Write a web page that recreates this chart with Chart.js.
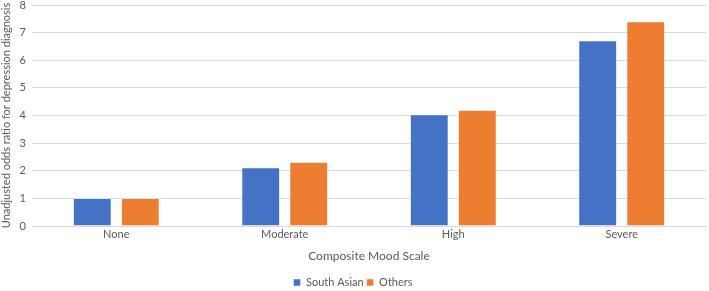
<!DOCTYPE html>
<html>
<head>
<meta charset="utf-8">
<script src="https://cdn.jsdelivr.net/npm/chart.js@4/dist/chart.umd.min.js"></script>
<style>
  html, body { margin: 0; padding: 0; background: #fff; }
  #wrap { width: 709px; height: 291px; position: relative; }
</style>
</head>
<body>
<div id="wrap"><canvas id="moodChart"></canvas></div>
<script>
/* Data */

const categories = ["None", "Moderate", "High", "Severe"];
const southAsian = [1, 2.11, 4.03, 6.71];
const others = [1, 2.31, 4.19, 7.39];

const textColor = "#595959";
const fontFamily = "Lato, 'Open Sans', sans-serif";

const moodChart = new Chart(document.querySelector("#moodChart"), {
    type: "bar",
    data: {
        labels: categories,
        datasets: [
            {
                label: "South Asian",
                data: southAsian,
                backgroundColor: "#4472c4",
                borderColor: "#ffffff",
                borderWidth: 0.5
            },
            {
                label: "Others",
                data: others,
                backgroundColor: "#ed7d31",
                borderColor: "#ffffff",
                borderWidth: 0.5
            }
        ]
    },
    options: {
        responsive: true,
        maintainAspectRatio: false,
        animation: false,
        categoryPercentage: 0.57,
        barPercentage: 0.79,
        layout: {
            padding: { top: 5, right: 3, left: 0, bottom: -7 }
        },
        plugins: {
            legend: {
                position: "bottom",
                labels: {
                    boxWidth: 7,
                    boxHeight: 7,
                    padding: 3,
                    color: textColor,
                    font: { family: fontFamily, size: 11 }
                }
            },
            tooltip: { enabled: false }
        },
        scales: {
            x: {
                grid: { display: false, drawTicks: false },
                border: { color: "#d9d9d9" },
                ticks: {
                    color: textColor,
                    padding: 2,
                    font: { family: fontFamily, size: 11 }
                },
                title: {
                    display: true,
                    text: "Composite Mood Scale",
                    color: textColor,
                    padding: { top: 4, bottom: 11 },
                    font: { family: fontFamily, size: 12 }
                },
                afterFit: scale => { scale.height = 48; }
            },
            y: {
                min: 0,
                max: 8,
                ticks: {
                    stepSize: 1,
                    color: textColor,
                    padding: 6,
                    font: { family: fontFamily, size: 11 }
                },
                grid: { color: "#d9d9d9", drawTicks: false },
                border: { display: false },
                title: {
                    display: true,
                    text: "Unadjusted odds ratio for depression diagnosis",
                    color: textColor,
                    padding: { top: 0, bottom: 0 },
                    font: { family: fontFamily, size: 11 }
                },
                afterFit: scale => {
                    scale.width = 32;
                    scale.paddingTop = 0;
                    scale.paddingBottom = 0;
                }
            }
        }
    }
});
</script>
</body>
</html>
